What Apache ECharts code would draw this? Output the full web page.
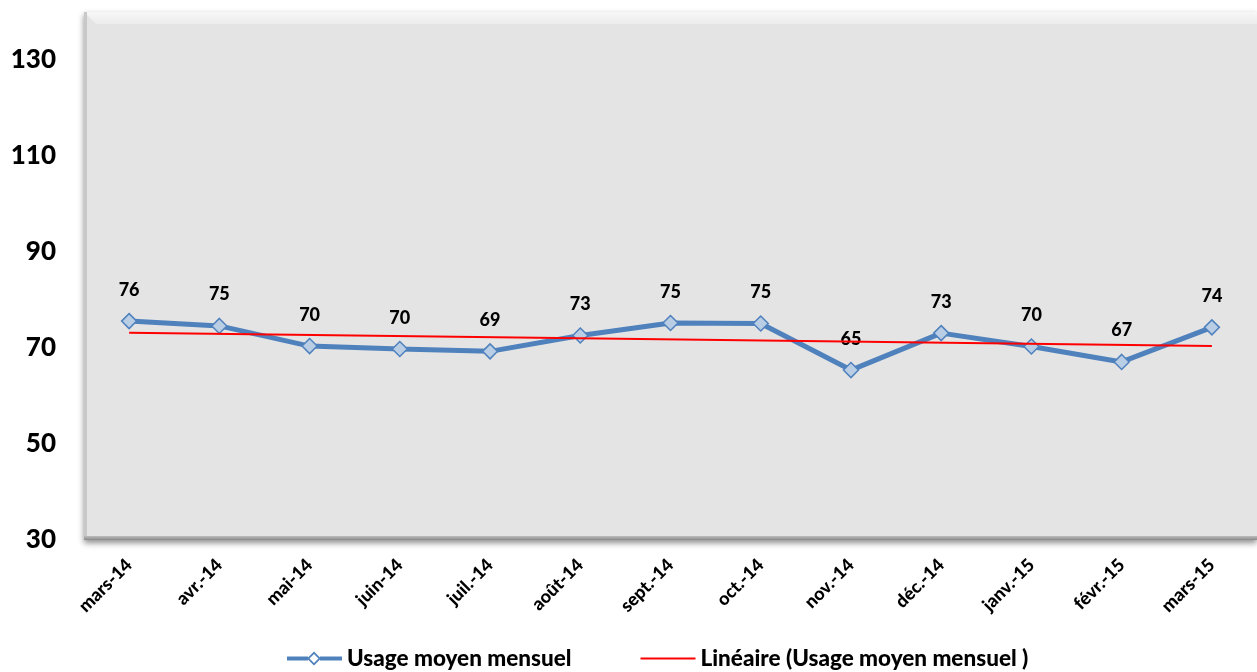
<!DOCTYPE html>
<html><head><meta charset="utf-8">
<script src="https://cdn.jsdelivr.net/npm/echarts@6/dist/echarts.min.js"></script>
<style>html,body{margin:0;padding:0;background:#fff}#c{width:1257px;height:672px}</style>
</head><body><div id="c"></div>
<script>
const categories = ['mars-14','avr.-14','mai-14','juin-14','juil.-14','août-14','sept.-14','oct.-14','nov.-14','déc.-14','janv.-15','févr.-15','mars-15'];
const usage = [75.6, 74.6, 70.4, 69.8, 69.3, 72.6, 75.2, 75.1, 65.4, 73.1, 70.3, 67.1, 74.3];
const trendEnds = [73.2, 70.4];
const yTicks = [30, 50, 70, 90, 110, 130];

const FONT = 'Lato, "Open Sans", sans-serif';
const chart = echarts.init(document.getElementById('c'));
chart.setOption({
  animation: false,
  backgroundColor: '#ffffff',
  grid: {left: 84, top: 12, right: -10, bottom: 132, show: true,
    backgroundColor: '#e4e4e4', borderWidth: 0,
    shadowColor: 'rgba(0,0,0,0.45)', shadowBlur: 6, shadowOffsetX: 0, shadowOffsetY: 3},
  graphic: [
    {type: 'polygon', z: 1, silent: true,
     shape: {points: [[84,12],[1257,12],[1257,24],[96,24]]},
     style: {fill: new echarts.graphic.LinearGradient(0,0,0,1,[{offset:0,color:'#f7f7f7'},{offset:1,color:'#ececec'}])}},
    {type: 'rect', z: 1, silent: true, shape: {x: 84, y: 12, width: 3, height: 528},
     style: {fill: '#c8c8c8'}},
    {type: 'rect', z: 1, silent: true, shape: {x: 84, y: 536, width: 1173, height: 4},
     style: {fill: new echarts.graphic.LinearGradient(0,0,0,1,[{offset:0,color:'#bdbdbd'},{offset:1,color:'#8a8a8a'}])}}
  ],
  legend: {
    bottom: 2, left: 287, padding: 0, itemGap: 69, itemWidth: 55, itemHeight: 14,
    textStyle: {fontFamily: FONT, fontWeight: 900, fontSize: 22.5, color: '#000'},
    data: [
      {name: 'Usage moyen mensuel',
       icon: 'path://M0,5 L21,5 L21,9 L0,9 Z M33,5 L55,5 L55,9 L33,9 Z M27,0 L34,7 L27,14 L20,7 Z M27,2.5 L22.5,7 L27,11.5 L31.5,7 Z',
       itemStyle: {color: '#4f81bd', borderWidth: 0}},
      {name: 'Linéaire (Usage moyen mensuel )', icon: 'path://M0,6 L55,6 L55,8 L0,8 Z',
       itemStyle: {color: '#ff0000', borderWidth: 0}}
    ]
  },
  xAxis: {
    type: 'category', data: categories, boundaryGap: true,
    axisLine: {show: false}, axisTick: {show: false},
    axisLabel: {rotate: 45, margin: 22, interval: 0, fontFamily: FONT, fontWeight: 900, fontSize: 18, color: '#000'}
  },
  yAxis: {
    type: 'value', min: 30, max: 140, interval: 20,
    axisLine: {show: false}, axisTick: {show: false}, splitLine: {show: false},
    axisLabel: {margin: 28, fontFamily: FONT, fontWeight: 900, fontSize: 26, color: '#000',
      formatter: v => yTicks.includes(v) ? String(v) : ''}
  },
  series: [
    {name: 'Usage moyen mensuel', type: 'line', data: usage, z: 3,
     symbol: 'diamond', symbolSize: 15,
     lineStyle: {color: '#4f81bd', width: 5},
     itemStyle: {color: '#b9cde5', borderColor: '#4f81bd', borderWidth: 1.5},
     label: {show: true, position: 'top', distance: 14, fontFamily: FONT, fontWeight: 900, fontSize: 18, color: '#000',
       formatter: p => Math.round(p.value)}
    },
    {name: 'Linéaire (Usage moyen mensuel )', type: 'line', z: 4,
     data: [[0, trendEnds[0]], [categories.length - 1, trendEnds[1]]],
     symbol: 'none', lineStyle: {color: '#ff0000', width: 2}, itemStyle: {color: '#ff0000'}}
  ]
});
</script></body></html>
